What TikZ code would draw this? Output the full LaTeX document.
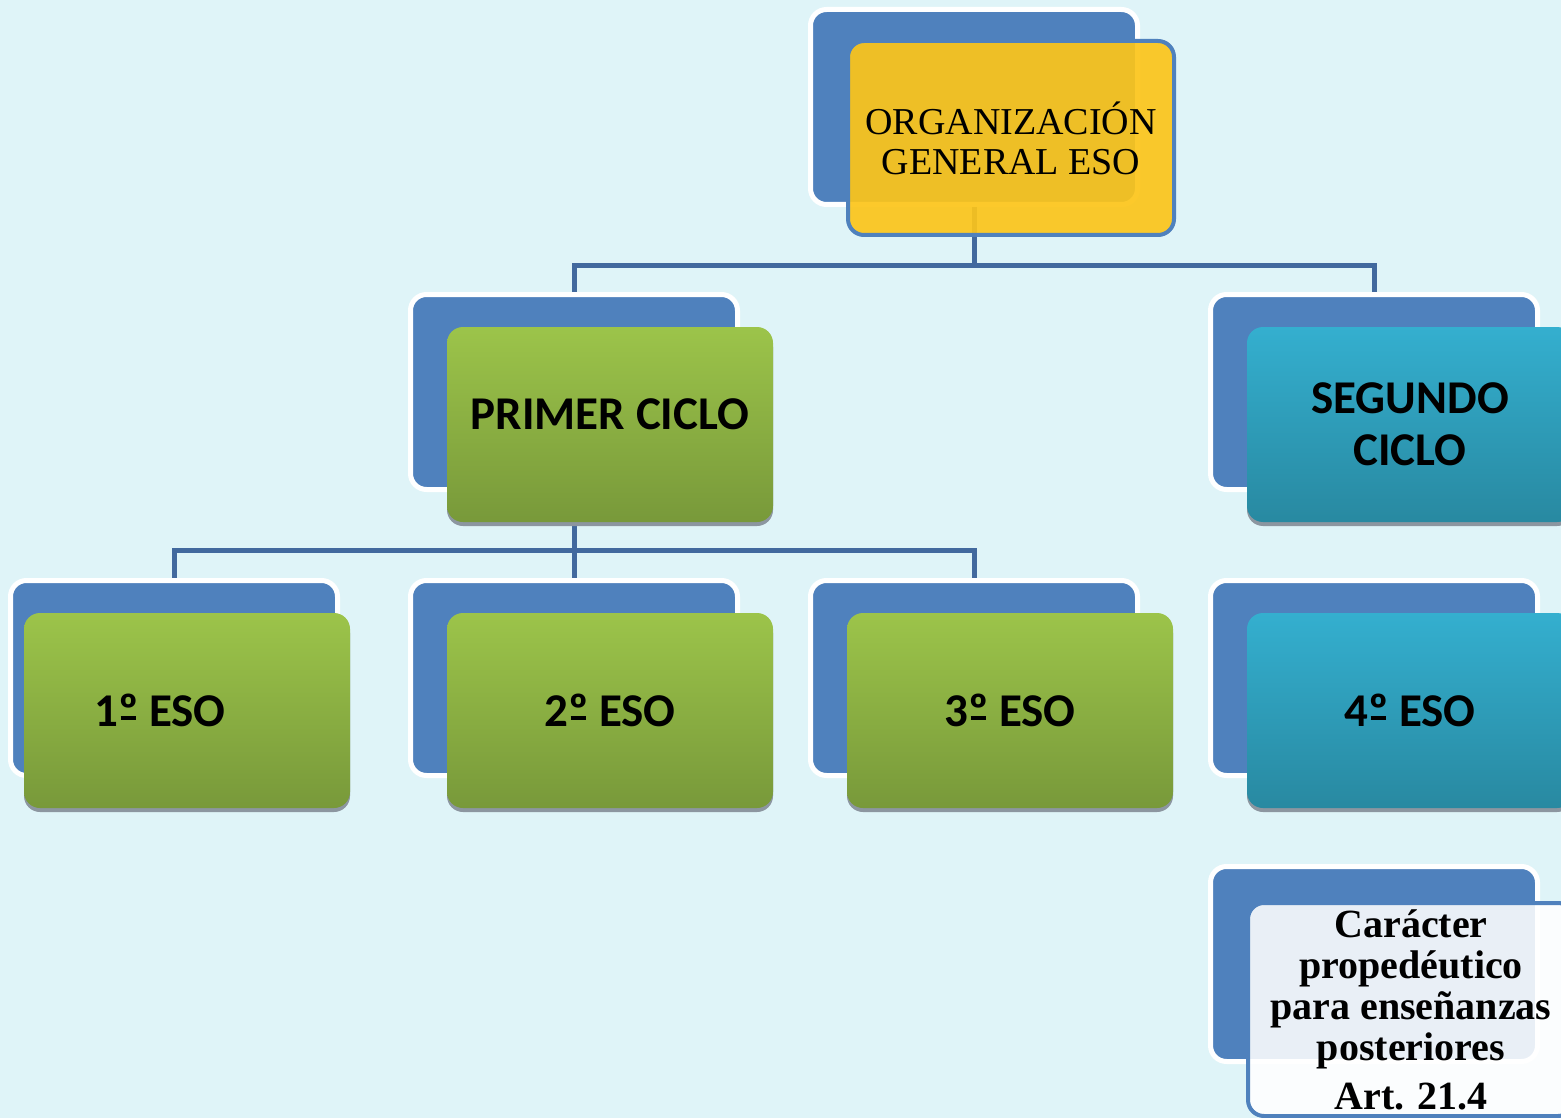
\documentclass[tikz,border=0pt]{standalone}
\usepackage{fontspec}
\usetikzlibrary{shadows}
\newfontfamily\calfont{Carlito}
\newfontfamily\serfont{Liberation Serif}
\definecolor{bg}{RGB}{223,244,248}
\definecolor{backblue}{RGB}{79,129,189}
\definecolor{connblue}{RGB}{66,105,158}
\definecolor{yel}{RGB}{252,197,26}
\definecolor{gtop}{RGB}{156,196,74}
\definecolor{gbot}{RGB}{120,153,58}
\definecolor{ttop}{RGB}{52,175,207}
\definecolor{tbot}{RGB}{40,137,161}
\definecolor{shade}{RGB}{140,150,160}
\newcommand\ordo{\setbox0\hbox{º}\rlap{\copy0}\hbox to \wd0{\hss\rule[7pt]{0.75\wd0}{3.5pt}\hss}}
\begin{document}
\begin{tikzpicture}[x=1pt,y=-1pt,
  backbox/.style={rectangle, rounded corners=16pt, fill=backblue, draw=white, line width=5pt,
    minimum width=327pt, minimum height=195pt, inner sep=0pt},
  frontbox/.style={rectangle, rounded corners=16pt, minimum width=326pt, minimum height=195pt,
    inner sep=0pt, align=center, text=black},
  greenbox/.style={frontbox, top color=gtop, bottom color=gbot,
    drop shadow={shadow xshift=0pt, shadow yshift=-4pt, fill=shade, opacity=1},
    font=\calfont\bfseries\fontsize{47}{52}\selectfont},
  tealbox/.style={frontbox, top color=ttop, bottom color=tbot,
    drop shadow={shadow xshift=0pt, shadow yshift=-4pt, fill=shade, opacity=1},
    font=\calfont\bfseries\fontsize{47}{52}\selectfont},
  yellowbox/.style={frontbox, fill=yel, fill opacity=0.92, text opacity=1, draw=backblue,
    line width=4pt, minimum height=194pt, font=\serfont\fontsize{38}{40}\selectfont},
  notebox/.style={frontbox, fill=white, fill opacity=0.88, text opacity=1, draw=backblue,
    line width=4pt, minimum height=213pt, font=\serfont\bfseries\fontsize{40}{41}\selectfont},
  conn/.style={draw=connblue, line width=5pt}
]
\useasboundingbox (0,0) rectangle (1561,1118);
\fill[bg] (0,0) rectangle (1561,1118);
\clip (0,0) rectangle (1561,1118);

% back boxes
\node[backbox] (orgB) at (974,107) {};
\node[backbox] (primB) at (574,392) {};
\node[backbox] (segB) at (1374,392) {};
\node[backbox] (e1B) at (174,678) {};
\node[backbox] (e2B) at (574,678) {};
\node[backbox] (e3B) at (974,678) {};
\node[backbox] (e4B) at (1374,678) {};
\node[backbox] (carB) at (1374,964) {};

% connectors
\draw[conn] (orgB.south) -- ++(0,58) -| (primB.north);
\draw[conn] (orgB.south) -- ++(0,58) -| (segB.north);
\draw[conn] (primB.south) -- ++(0,58) -| (e1B.north);
\draw[conn] (primB.south) -- ++(0,58) -| (e2B.north);
\draw[conn] (primB.south) -- ++(0,58) -| (e3B.north);

% front boxes
\node[yellowbox] (org) at (1011,138) {ORGANIZACIÓN\\GENERAL ESO};
\node[greenbox] (prim) at (610,424.5) {\raisebox{20pt}{PRIMER CICLO}};
\node[tealbox] (seg) at (1410,424.5) {SEGUNDO\\CICLO};
\node[greenbox] (e1) at (187,710.5) {1\ordo{} ESO\hspace*{54pt}};
\node[greenbox] (e2) at (610,710.5) {2\ordo{} ESO};
\node[greenbox] (e3) at (1010,710.5) {3\ordo{} ESO};
\node[tealbox] (e4) at (1410,710.5) {4\ordo{} ESO};
\node[notebox] (car) at (1411,1009.5) {Carácter\\propedéutico\\para enseñanzas\\posteriores\\[8pt]Art. 21.4};
\end{tikzpicture}
\end{document}
